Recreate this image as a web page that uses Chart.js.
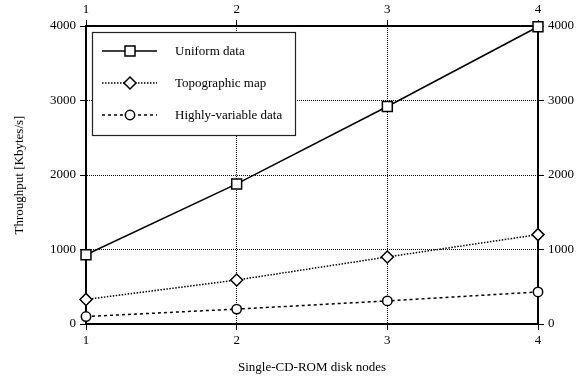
<!DOCTYPE html>
<html>
<head>
<meta charset="utf-8">
<script src="https://cdn.jsdelivr.net/npm/chart.js@4/dist/chart.umd.min.js"></script>
<style>
  html, body { margin: 0; padding: 0; background: #fff; }
  #wrap { width: 582px; height: 379px; }
</style>
</head>
<body>
<div id="wrap"><canvas id="myChart" width="582" height="379"></canvas></div>
<script>
(() => {
  'use strict'

  // values
  const nodes = [1, 2, 3, 4];
  const uniform = [930, 1880, 2920, 3990];
  const topographic = [330, 590, 900, 1200];
  const highlyVariable = [100, 200, 310, 430];
  const seriesNames = ['Uniform data', 'Topographic map', 'Highly-variable data'];
  const yTicks = [0, 1000, 2000, 3000, 4000];

  const font = { family: '"Liberation Serif", "Times New Roman", serif', size: 13 };

  const toPoints = vals => vals.map((v, i) => ({ x: nodes[i], y: v }));

  const baseSet = {
    borderColor: '#000',
    borderWidth: 1.5,
    pointBackgroundColor: '#fff',
    pointBorderColor: '#000',
    pointBorderWidth: 1.5,
    tension: 0,
    clip: false
  };

  function drawMarker(ctx, style, x, y) {
    if (style === 'rect') {
      ctx.rect(x - 5, y - 5, 10, 10);
    } else if (style === 'rectRot') {
      ctx.moveTo(x, y - 6);
      ctx.lineTo(x + 6, y);
      ctx.lineTo(x, y + 6);
      ctx.lineTo(x - 6, y);
      ctx.closePath();
    } else {
      ctx.arc(x, y, 4.7, 0, Math.PI * 2);
    }
  }

  // legend drawn as a boxed panel inside the plot
  const boxLegend = {
    id: 'boxLegend',
    afterDatasetsDraw(chart) {
      const ctx = chart.ctx;
      const x0 = 92, y0 = 32, w = 203, h = 103;
      ctx.save();
      ctx.fillStyle = '#fff';
      ctx.fillRect(x0, y0, w, h);
      ctx.strokeStyle = '#222';
      ctx.lineWidth = 1.2;
      ctx.strokeRect(x0 + 0.5, y0 + 0.5, w, h);
      chart.data.datasets.forEach((ds, i) => {
        const y = y0 + 19 + i * 32;
        ctx.setLineDash(ds.borderDash || []);
        ctx.lineWidth = ds.borderWidth;
        ctx.strokeStyle = '#000';
        ctx.beginPath();
        ctx.moveTo(102, y);
        ctx.lineTo(157, y);
        ctx.stroke();
        ctx.setLineDash([]);
        ctx.fillStyle = '#fff';
        ctx.lineWidth = ds.pointBorderWidth;
        ctx.beginPath();
        drawMarker(ctx, ds.pointStyle, 130, y);
        ctx.fill();
        ctx.stroke();
        ctx.fillStyle = '#000';
        ctx.font = font.size + 'px ' + font.family;
        ctx.textBaseline = 'middle';
        ctx.fillText(ds.label, 175, y + 1);
      });
      ctx.restore();
    }
  };

  const xCommon = {
    type: 'linear',
    min: 1,
    max: 4,
    ticks: { stepSize: 1, color: '#000', font: font, padding: 3 },
    border: { color: '#000', width: 2, dash: [1, 1] },
    grid: { color: '#000', lineWidth: 1, tickLength: 6, tickColor: '#000' }
  };
  const yCommon = {
    type: 'linear',
    min: 0,
    max: 4000,
    afterBuildTicks: scale => { scale.ticks = yTicks.map(v => ({ value: v })); },
    ticks: { color: '#000', font: font, padding: 4, callback: v => String(v) },
    border: { color: '#000', width: 2, dash: [1, 1] },
    grid: { color: '#000', lineWidth: 1, tickLength: 6, tickColor: '#000' }
  };

  const ctx = document.getElementById('myChart');
  new Chart(ctx, {
    type: 'line',
    data: {
      datasets: [{
        ...baseSet,
        label: seriesNames[0],
        data: toPoints(uniform),
        pointStyle: 'rect',
        pointRadius: 7
      }, {
        ...baseSet,
        label: seriesNames[1],
        data: toPoints(topographic),
        borderDash: [1.5, 1.5],
        pointStyle: 'rectRot',
        pointRadius: 6
      }, {
        ...baseSet,
        label: seriesNames[2],
        data: toPoints(highlyVariable),
        borderDash: [3, 3],
        pointStyle: 'circle',
        pointRadius: 4.7
      }]
    },
    options: {
      responsive: false,
      animation: false,
      events: [],
      layout: { padding: 0 },
      plugins: {
        legend: { display: false },
        tooltip: { enabled: false }
      },
      scales: {
        x: {
          ...xCommon,
          position: 'bottom',
          afterFit: s => { s.height = 55; },
          title: { display: true, text: 'Single-CD-ROM disk nodes', color: '#000', font: font, padding: { top: 10 } }
        },
        x2: {
          ...xCommon,
          position: 'top',
          afterFit: s => { s.height = 26; },
          grid: { ...xCommon.grid, drawOnChartArea: false }
        },
        y: {
          ...yCommon,
          position: 'left',
          afterFit: s => { s.width = 86; },
          title: { display: true, text: 'Throughput [Kbytes/s]', color: '#000', font: font, padding: { top: 12 } }
        },
        y2: {
          ...yCommon,
          position: 'right',
          afterFit: s => { s.width = 44; },
          grid: { ...yCommon.grid, drawOnChartArea: false }
        }
      }
    },
    plugins: [boxLegend]
  });
})();
</script>
</body>
</html>
